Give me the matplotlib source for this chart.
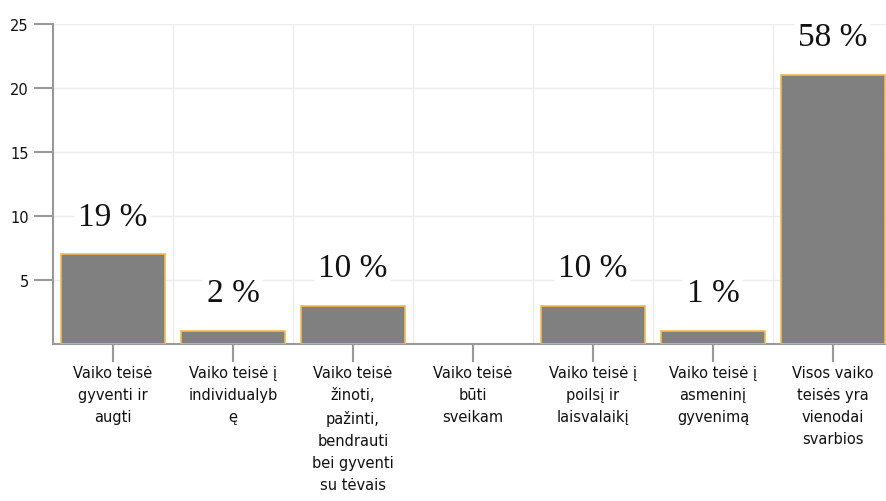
import matplotlib.pyplot as plt

categories = [
    "Vaiko teisė\ngyventi ir\naugti",
    "Vaiko teisė į\nindividualyb\nę",
    "Vaiko teisė\nžinoti,\npažinti,\nbendrauti\nbei gyventi\nsu tėvais",
    "Vaiko teisė\nbūti\nsveikam",
    "Vaiko teisė į\npoilsį ir\nlaisvalaikį",
    "Vaiko teisė į\nasmeninį\ngyvenimą",
    "Visos vaiko\nteisės yra\nvienodai\nsvarbios",
]
values = [7, 1, 3, 0, 3, 1, 21]
pct_labels = ["19 %", "2 %", "10 %", "", "10 %", "1 %", "58 %"]
y_ticks = [5, 10, 15, 20, 25]

W, H = 887, 502
fig = plt.figure(figsize=(W / 100, H / 100), dpi=100)
ax = fig.add_axes([53 / W, (H - 345) / H, 840 / W, 320 / H])

x = list(range(len(categories)))
edges = ["#f4b94e" if v > 0 else "none" for v in values]
ax.bar(x, values, width=0.86, color="#808080", edgecolor=edges, linewidth=1.2, zorder=3)

# ===== percentage labels above bars =====
for xi, v, lab in zip(x, values, pct_labels):
    if not lab:
        continue
    ax.annotate(lab, (xi, v), xytext=(0, 38), textcoords="offset pixels",
                ha="center", va="center", fontsize=24, family="Liberation Serif",
                color="#111111", zorder=5,
                bbox=dict(boxstyle="square,pad=0.1", fc="white", ec="none"))

ax.set_xlim(-0.5, len(categories) - 0.5)
ax.set_ylim(0, 25)
ax.set_yticks(y_ticks)
ax.set_xticks(x)
ax.set_xticklabels(categories, fontsize=10.5, linespacing=1.6, color="#111111")
ax.tick_params(axis="y", labelsize=10.5, length=14, color="#999999", width=1.5, labelcolor="#111111")
ax.tick_params(axis="x", length=13, color="#999999", width=1.5, pad=2)

# ===== grid =====
for yy in y_ticks:
    ax.axhline(yy, color="#ececec", lw=1, zorder=0)
for b in range(1, len(categories)):
    ax.axvline(b - 0.5, color="#ececec", lw=1, zorder=0)

for s in ["top", "right"]:
    ax.spines[s].set_visible(False)
for s in ["left", "bottom"]:
    ax.spines[s].set_color("#999999")
    ax.spines[s].set_linewidth(1.5)

fig.savefig("out.png", dpi=100)
